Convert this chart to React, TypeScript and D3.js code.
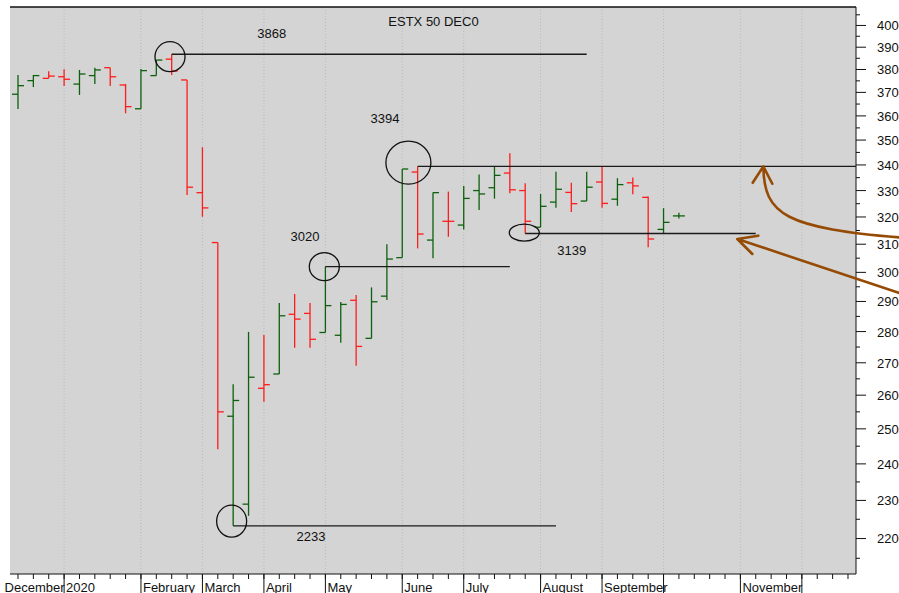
import React, { useLayoutEffect, useRef } from 'react';
import * as d3 from 'd3';

const parseDay = d3.timeParse('%Y-%m-%d');

// weekly OHLC bars, ESTX 50 Dec 2020 future (week ending Friday)
const weeks = [
  '2019-12-13', '2019-12-20', '2019-12-27', '2020-01-03', '2020-01-10', '2020-01-17',
  '2020-01-24', '2020-01-31', '2020-02-07', '2020-02-14', '2020-02-21', '2020-02-28',
  '2020-03-06', '2020-03-13', '2020-03-20', '2020-03-27', '2020-04-03', '2020-04-10',
  '2020-04-17', '2020-04-24', '2020-05-01', '2020-05-08', '2020-05-15', '2020-05-22',
  '2020-05-29', '2020-06-05', '2020-06-12', '2020-06-19', '2020-06-26', '2020-07-03',
  '2020-07-10', '2020-07-17', '2020-07-24', '2020-07-31', '2020-08-07', '2020-08-14',
  '2020-08-21', '2020-08-28', '2020-09-04', '2020-09-11', '2020-09-18', '2020-09-25',
  '2020-10-02', '2020-10-09',
];
const opens = [
  3692, 3751, 3761, 3768, 3736, 3773, 3808, 3732, 3630, 3773, 3846, 3754, 3292, 3106, 2537,
  2290, 2621, 2665, 2857, 2860, 2797, 2788, 2904, 2778, 2918, 3052, 3372, 3115, 3184, 3170,
  3300, 3311, 3368, 3300, 3162, 3256, 3293, 3260, 3333, 3267, 3330, 3274, 3154, 3204,
];
const highs = [
  3776, 3776, 3792, 3801, 3798, 3808, 3808, 3736, 3802, 3842, 3868, 3754, 3471, 3106, 2633,
  2799, 2789, 2895, 2925, 2895, 3020, 2898, 2922, 2948, 3100, 3384, 3394, 3293, 3296, 3318,
  3362, 3393, 3447, 3328, 3287, 3373, 3330, 3373, 3393, 3348, 3351, 3277, 3233, 3216,
];
const lows = [
  3629, 3723, 3761, 3728, 3689, 3736, 3728, 3611, 3630, 3773, 3776, 3283, 3201, 2441, 2233,
  2259, 2580, 2665, 2748, 2748, 2797, 2764, 2691, 2778, 2905, 3052, 3085, 3050, 3127, 3154,
  3226, 3269, 3290, 3139, 3162, 3235, 3219, 3260, 3235, 3242, 3286, 3089, 3138, 3194,
];
const closes = [
  3729, 3773, 3771, 3757, 3780, 3798, 3768, 3639, 3795, 3842, 3793, 3313, 3234, 2550, 2584,
  2655, 2632, 2852, 2841, 2775, 2886, 2890, 2752, 2899, 3047, 3384, 3137, 3292, 3184, 3270,
  3287, 3359, 3303, 3184, 3240, 3305, 3250, 3313, 3251, 3323, 3318, 3119, 3180, 3204,
];

const yTicks = [
  2200, 2300, 2400, 2500, 2600, 2700, 2800, 2900, 3000, 3100, 3200, 3300, 3400, 3500, 3600,
  3700, 3800, 3900, 4000,
];
const yMinorTicks = [
  2150, 2250, 2350, 2450, 2550, 2650, 2750, 2850, 2950, 3050, 3150, 3250, 3350, 3450, 3550,
  3650, 3750, 3850, 3950, 4050,
];
const monthLabels = [
  'December', '2020', 'February', 'March', 'April', 'May', 'June', 'July', 'August',
  'September', '', 'November', '',
];

// marked levels
const levelValues = [3868, 3394, 3020, 3139, 2233];
const levelFrom = ['2020-02-21', '2020-06-12', '2020-05-01', '2020-07-31', '2020-03-20'];
const levelTo = ['2020-08-28', '', '2020-07-24', '2020-11-13', '2020-08-14'];
// label and circle anchors, in weeks after the first bar and in index points
const labelWeeks = [16.51, 23.88, 18.67, 36.03, 19.06];
const labelValues = [3942, 3570, 3113, 3061, 2194];
const circleWeeks = [9.89, 25.4, 19.93, 32.94, 13.9];
const circleValues = [3857, 3409, 3020, 3142, 2245];
// hand-drawn arrows: tip, control points, tail
const arrowCurveWeeks = [48.49, 48.54, 49.9, 57.71];
const arrowCurveValues = [3394, 3207, 3159, 3123];
const arrowLineWeeks = [46.8, 57.71];
const arrowLineValues = [3119, 2922];

const App = () => {
  const chart = useRef<SVGSVGElement>(null);

  useLayoutEffect(() => {
    const width = 899;
    const height = 593;
    const plot = { left: 10, right: 856, top: 7, bottom: 574 };
    const font = '"Liberation Sans", Arial, sans-serif';
    const green = '#0d600d';
    const red = '#ff1c1c';

    const first = parseDay(weeks[0])!;
    const wk = (n: number) => new Date(first.getTime() + n * 7 * 864e5);

    const svg = d3.select(chart.current).attr('width', width).attr('height', height);
    svg.selectAll('*').remove();

    const xScale = d3
      .scaleTime()
      .domain([new Date(2019, 11, 9, 8, 38), new Date(2020, 11, 28, 15, 36)])
      .range([plot.left, plot.right]);
    const yScale = d3.scaleLog().domain([2111, 4087]).range([plot.bottom, plot.top]);

    svg
      .append('rect')
      .attr('x', plot.left)
      .attr('y', plot.top)
      .attr('width', plot.right - plot.left)
      .attr('height', plot.bottom - plot.top)
      .attr('fill', '#d4d4d4');

    // month boundaries = first Friday of each month
    const monthTicks = d3
      .timeMonth.range(new Date(2019, 11, 1), new Date(2021, 0, 1))
      .map((m) => d3.timeFriday.ceil(m));
    const inPlot = (d: Date) => xScale(d) >= plot.left && xScale(d) <= plot.right;

    svg
      .append('g')
      .selectAll('line')
      .data(monthTicks.filter(inPlot))
      .join('line')
      .attr('x1', (d) => xScale(d))
      .attr('x2', (d) => xScale(d))
      .attr('y1', plot.top)
      .attr('y2', plot.bottom)
      .attr('stroke', '#b9b9b9')
      .attr('stroke-dasharray', '1,2');

    // borders
    svg
      .append('line')
      .attr('x1', plot.left)
      .attr('x2', plot.right)
      .attr('y1', plot.top)
      .attr('y2', plot.top)
      .attr('stroke', '#111')
      .attr('stroke-width', 1.5);
    svg
      .append('line')
      .attr('x1', plot.left)
      .attr('x2', plot.right)
      .attr('y1', plot.bottom)
      .attr('y2', plot.bottom)
      .attr('stroke', '#111');
    svg
      .append('line')
      .attr('x1', plot.right)
      .attr('x2', plot.right)
      .attr('y1', plot.top)
      .attr('y2', plot.bottom)
      .attr('stroke', '#111');

    // y axis on the right
    const yAxis = svg.append('g');
    yAxis
      .selectAll('.minor')
      .data(yMinorTicks)
      .join('line')
      .attr('x1', plot.right)
      .attr('x2', plot.right + 4)
      .attr('y1', (d) => yScale(d))
      .attr('y2', (d) => yScale(d))
      .attr('stroke', '#111');
    yAxis
      .selectAll('.major')
      .data(yTicks)
      .join('line')
      .attr('x1', plot.right)
      .attr('x2', plot.right + 10)
      .attr('y1', (d) => yScale(d))
      .attr('y2', (d) => yScale(d))
      .attr('stroke', '#111');
    yAxis
      .selectAll('text')
      .data(yTicks)
      .join('text')
      .attr('x', 877)
      .attr('y', (d) => yScale(d))
      .attr('dy', '0.38em')
      .attr('font-family', font)
      .attr('font-size', 13)
      .attr('fill', '#111')
      .text((d) => String(d));

    // x axis: weekly ticks, month separators and labels
    const xAxis = svg.append('g');
    xAxis
      .selectAll('line')
      .data(d3.timeFriday.range(xScale.domain()[0], xScale.domain()[1]))
      .join('line')
      .attr('x1', (d) => xScale(d))
      .attr('x2', (d) => xScale(d))
      .attr('y1', plot.bottom)
      .attr('y2', plot.bottom + 5)
      .attr('stroke', '#111');
    monthTicks.forEach((d, i) => {
      const x = xScale(d);
      if (x > plot.right) return;
      const g = xAxis.append('g');
      const box = g.append('rect').attr('fill', '#fff');
      const label = g
        .append('text')
        .attr('x', x + 2)
        .attr('y', 592)
        .attr('font-family', font)
        .attr('font-size', 13)
        .attr('fill', '#111')
        .text(monthLabels[i]);
      if (monthLabels[i]) {
        const w = (label.node() as SVGTextElement).getComputedTextLength();
        box
          .attr('x', x + 1)
          .attr('y', plot.bottom + 6)
          .attr('width', w + 2)
          .attr('height', height - plot.bottom - 6);
      }
      if (inPlot(d)) {
        g.append('line')
          .attr('x1', x)
          .attr('x2', x)
          .attr('y1', plot.bottom)
          .attr('y2', height)
          .attr('stroke', '#111');
      }
    });

    // OHLC bars, coloured against previous close
    const bars = svg.append('g');
    weeks.forEach((w, i) => {
      const x = xScale(parseDay(w)!);
      const up = i === 0 ? closes[i] >= opens[i] : closes[i] >= closes[i - 1];
      const g = bars.append('g').attr('stroke', up ? green : red).attr('stroke-width', 1.3);
      g.append('line')
        .attr('x1', x)
        .attr('x2', x)
        .attr('y1', yScale(highs[i]))
        .attr('y2', yScale(lows[i]));
      g.append('line')
        .attr('x1', x - 6)
        .attr('x2', x)
        .attr('y1', yScale(opens[i]))
        .attr('y2', yScale(opens[i]));
      g.append('line')
        .attr('x1', x)
        .attr('x2', x + 6)
        .attr('y1', yScale(closes[i]))
        .attr('y2', yScale(closes[i]));
    });

    // levels, circles and their labels
    const radii = [
      [15, 15],
      [22.5, 21.5],
      [15, 14],
      [15, 8.5],
      [15, 16],
    ];
    const notes = svg.append('g');
    levelValues.forEach((v, i) => {
      const x1 = xScale(parseDay(levelFrom[i])!);
      const x2 = levelTo[i] ? xScale(parseDay(levelTo[i])!) : plot.right;
      notes
        .append('line')
        .attr('x1', x1)
        .attr('x2', x2)
        .attr('y1', yScale(v))
        .attr('y2', yScale(v))
        .attr('stroke', '#1a1a1a')
        .attr('stroke-width', 1.3);
      notes
        .append('ellipse')
        .attr('cx', xScale(wk(circleWeeks[i])))
        .attr('cy', yScale(circleValues[i]))
        .attr('rx', radii[i][0])
        .attr('ry', radii[i][1])
        .attr('fill', 'none')
        .attr('stroke', '#111')
        .attr('stroke-width', 1.3);
      notes
        .append('text')
        .attr('x', xScale(wk(labelWeeks[i])))
        .attr('y', yScale(labelValues[i]))
        .attr('text-anchor', 'middle')
        .attr('font-family', font)
        .attr('font-size', 13)
        .attr('fill', '#111')
        .text(String(v));
    });

    svg
      .append('text')
      .attr('x', 433.5)
      .attr('y', 26)
      .attr('text-anchor', 'middle')
      .attr('font-family', font)
      .attr('font-size', 13)
      .attr('fill', '#111')
      .text('ESTX 50 DEC0');

    // brown arrows
    const brown = '#964b05';
    const pt = (w: number, v: number) => [xScale(wk(w)), yScale(v)];
    const c = arrowCurveWeeks.map((w, i) => pt(w, arrowCurveValues[i]));
    const curve = d3.path();
    curve.moveTo(c[3][0], c[3][1]);
    curve.bezierCurveTo(c[2][0], c[2][1], c[1][0], c[1][1], c[0][0], c[0][1]);
    curve.moveTo(c[0][0] - 10.6, c[0][1] + 16.3);
    curve.lineTo(c[0][0], c[0][1]);
    curve.lineTo(c[0][0] + 9, c[0][1] + 17.3);

    const s = arrowLineWeeks.map((w, i) => pt(w, arrowLineValues[i]));
    const straight = d3.path();
    straight.moveTo(s[1][0], s[1][1]);
    straight.lineTo(s[0][0], s[0][1]);
    straight.moveTo(s[0][0] + 21, s[0][1] - 3.3);
    straight.lineTo(s[0][0], s[0][1]);
    straight.lineTo(s[0][0] + 15, s[0][1] + 15);

    svg
      .append('g')
      .selectAll('path')
      .data([curve.toString(), straight.toString()])
      .join('path')
      .attr('d', (d) => d)
      .attr('fill', 'none')
      .attr('stroke', brown)
      .attr('stroke-width', 2.6)
      .attr('stroke-linecap', 'round')
      .attr('stroke-linejoin', 'round');
  });

  return (
    <div style={{ position: 'absolute', left: 0, top: 0 }}>
      <svg ref={chart} style={{ display: 'block', background: '#fff' }}></svg>
    </div>
  );
};

export default App;
